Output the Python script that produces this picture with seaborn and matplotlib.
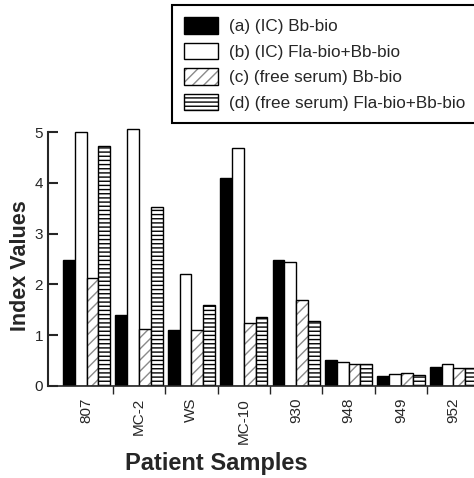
import numpy as np
import pandas as pd
import matplotlib.pyplot as plt
import seaborn as sns
from matplotlib.colors import to_rgba

sns.set_style('ticks')
plt.rcParams['font.family'] = ['Liberation Sans', 'DejaVu Sans']

# data
samples = ['807', 'MC-2', 'WS', 'MC-10', '930', '948', '949', '952']
series = ['(a) (IC) Bb-bio', '(b) (IC) Fla-bio+Bb-bio',
          '(c) (free serum) Bb-bio', '(d) (free serum) Fla-bio+Bb-bio']
ic_bb = [2.48, 1.40, 1.10, 4.10, 2.48, 0.52, 0.20, 0.38]
ic_fla_bb = [5.00, 5.07, 2.20, 4.68, 2.45, 0.48, 0.23, 0.43]
free_bb = [2.12, 1.13, 1.10, 1.25, 1.70, 0.43, 0.26, 0.35]
free_fla_bb = [4.72, 3.53, 1.60, 1.35, 1.28, 0.43, 0.22, 0.35]

df = pd.DataFrame({
    'Sample': samples * 4,
    'Series': np.repeat(series, len(samples)),
    'Index': ic_bb + ic_fla_bb + free_bb + free_fla_bb,
})

fig = plt.figure(figsize=(4.74, 4.78), dpi=100)
ax = fig.add_axes([0.1013, 0.1925, 0.9107, 0.5631])

sns.barplot(data=df, x='Sample', y='Index', hue='Series', hue_order=series,
            palette=['black', 'white', 'white', 'white'], width=0.9,
            saturation=1, edgecolor='black', linewidth=1, errorbar=None,
            legend=False, ax=ax)

# hatches for the free serum bars
hatches = [None, None, '///', '----']
hatch_cols = [None, None, '#8a8a8a', 'black']
for cont, h, hc in zip(ax.containers, hatches, hatch_cols):
    if h is None:
        continue
    for p in cont.patches:
        p.set_hatch(h)
        if hasattr(p, 'set_hatchcolor'):
            p.set_hatchcolor(hc)
        else:
            p._hatch_color = to_rgba(hc)

ax.set_xlim(-0.735, 7.5)
ax.set_ylim(0, 5.3)
ax.set_yticks(range(6))
for s in ['top', 'right']:
    ax.spines[s].set_visible(False)
ax.spines['left'].set_bounds(0, 5)
ax.spines['left'].set_linewidth(1.5)
ax.spines['bottom'].set_linewidth(1.2)

ax.tick_params(axis='y', direction='in', length=7, width=1.5, labelsize=11)
ax.set_xticks(np.arange(0.5, 7, 1), minor=True)
ax.tick_params(axis='x', which='major', length=0, labelsize=11, pad=8.5,
               labelrotation=90)
ax.tick_params(axis='x', which='minor', direction='out', length=6, width=1)

ax.set_xlabel('Patient Samples', fontsize=17, fontweight='bold')
ax.set_ylabel('Index Values', fontsize=15.5, fontweight='bold')
ax.xaxis.set_label_coords(0.389, -0.245)
ax.yaxis.set_label_coords(-0.04, 0.446)

leg = ax.legend(handles=[c.patches[0] for c in ax.containers], labels=series,
                loc='upper left', bbox_to_anchor=(172 / 474, 1 - 5 / 478),
                bbox_transform=fig.transFigure, fontsize=12.3,
                frameon=True, fancybox=False, edgecolor='black', framealpha=1,
                handlelength=2.0, handleheight=1.1, handletextpad=0.6,
                labelspacing=0.5, borderpad=0.72, borderaxespad=0)
leg.get_frame().set_linewidth(1.5)

fig.savefig('out.png', dpi=100)
